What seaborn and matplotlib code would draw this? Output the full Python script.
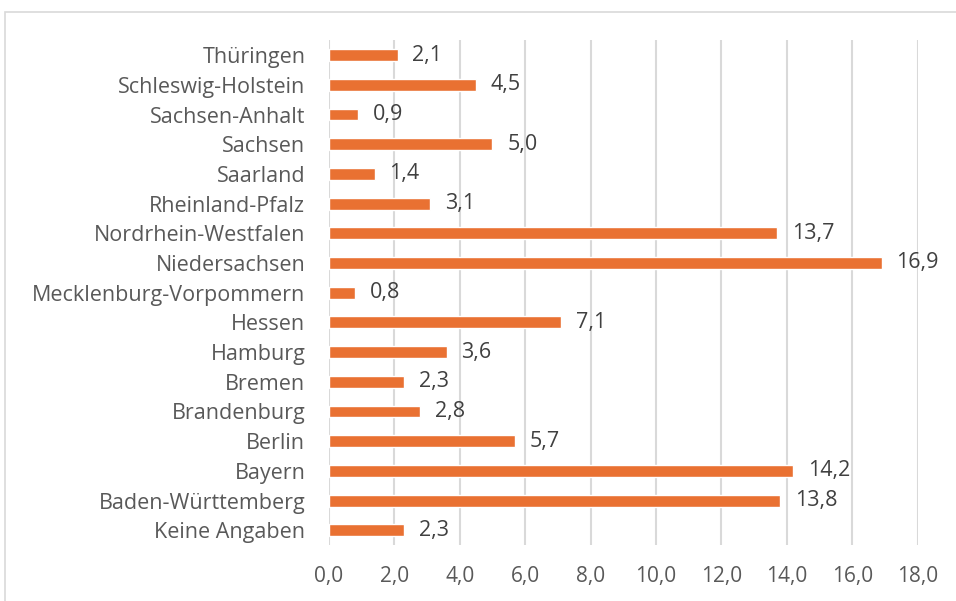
import matplotlib
matplotlib.use("Agg")
import matplotlib.pyplot as plt
import seaborn as sns
import pandas as pd
from matplotlib.patches import Rectangle

# =========================================
# DADOS
# =========================================

laender = [
    "Thüringen",
    "Schleswig-Holstein",
    "Sachsen-Anhalt",
    "Sachsen",
    "Saarland",
    "Rheinland-Pfalz",
    "Nordrhein-Westfalen",
    "Niedersachsen",
    "Mecklenburg-Vorpommern",
    "Hessen",
    "Hamburg",
    "Bremen",
    "Brandenburg",
    "Berlin",
    "Bayern",
    "Baden-Württemberg",
    "Keine Angaben",
]

anteile = [2.1, 4.5, 0.9, 5.0, 1.4, 3.1, 13.7, 16.9, 0.8, 7.1,
           3.6, 2.3, 2.8, 5.7, 14.2, 13.8, 2.3]

x_ticks = [0, 2, 4, 6, 8, 10, 12, 14, 16, 18]

df = pd.DataFrame({"Land": laender, "Anteil": anteile})

# =========================================
# PLOT
# =========================================

sns.set_theme(style="white")
plt.rcParams["font.family"] = ["Open Sans", "DejaVu Sans"]

fig = plt.figure(figsize=(9.56, 6.01), dpi=100)
ax = fig.add_axes([0.344, 0.093, 0.616, 0.840])

sns.barplot(
    data=df,
    y="Land",
    x="Anteil",
    color="#E97132",
    width=0.4,
    saturation=1,
    ax=ax,
)

ax.set_xlim(0, 18)
ax.set_xticks(x_ticks)
ax.set_xticklabels([f"{v:.1f}".replace(".", ",") for v in x_ticks])
ax.grid(axis="x", color="#D9D9D9", linewidth=1.5)
ax.set_axisbelow(True)

for s in ax.spines.values():
    s.set_visible(False)

ax.set_xlabel("")
ax.set_ylabel("")
ax.tick_params(axis="x", length=0, pad=15, labelsize=15, labelcolor="#595959")
ax.tick_params(axis="y", length=0, pad=17, labelsize=15.5, labelcolor="#595959")

for i, v in enumerate(anteile):
    ax.text(v + 0.45, i, f"{v:.1f}".replace(".", ","),
            va="center", ha="left", fontsize=15.5, color="#404040")

# Rahmen
fig.patches.append(Rectangle((5 / 956, -0.1), 1.2, 1.1 - 12 / 601,
                             transform=fig.transFigure, fill=False,
                             edgecolor="#D9D9D9", linewidth=1.2))

fig.savefig("out.png", dpi=100)
